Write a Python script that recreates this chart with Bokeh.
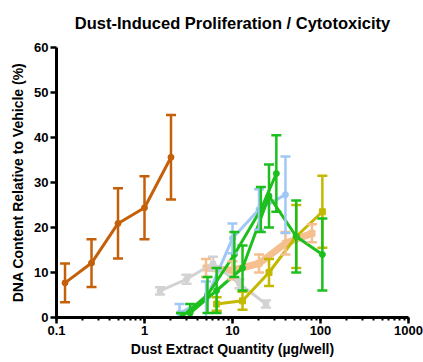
from bokeh.plotting import figure
from bokeh.models import ColumnDataSource, Whisker, TeeHead, LogTicker, FixedTicker, Range1d, Title
from bokeh.embed import file_html
from bokeh.resources import INLINE

# ---- data ----
orange_x = [0.125, 0.25, 0.5, 1, 2]
orange_y = [7.7, 12.1, 20.9, 24.4, 35.6]
orange_e = [4.3, 5.3, 7.8, 7.0, 9.4]

gray_x = [1.5, 3, 6, 12, 24]
gray_y = [5.9, 8.5, 12.0, 7.5, 3.0]
gray_e = [0.8, 1.0, 1.5, 1.0, 0.8]

peach_x = [5, 10, 20, 40, 80]
peach_y = [11.0, 10.5, 12.0, 16.5, 18.7]
peach_e = [2.0, 2.0, 2.0, 2.5, 2.0]

blue_x = [2.5, 5, 10, 20, 40]
blue_y = [1.0, 4.0, 17.6, 24.0, 27.3]
blue_e = [2.0, 4.0, 3.3, 4.5, 8.5]

green1_x = [3.3, 6.6, 13, 26, 53, 105]
green1_y = [1.0, 6.0, 11.0, 27.0, 18.0, 14.0]
green1_e = [2.0, 5.0, 5.0, 7.0, 8.0, 8.0]

green2_x = [2.6, 5.2, 10.5, 21, 31.5]
green2_y = [0.0, 5.0, 14.0, 24.0, 32.0]
green2_e = [1.0, 4.0, 5.0, 5.0, 8.5]

olive_x = [6.6, 13, 26, 53, 105]
olive_y = [3.0, 3.7, 10.0, 18.0, 23.5]
olive_e = [1.5, 2.0, 3.0, 7.0, 8.0]

y_ticks = [0, 10, 20, 30, 40, 50, 60]

FONT = "Liberation Sans"

p = figure(width=423, height=362, x_axis_type="log",
           x_range=Range1d(0.1, 1000), y_range=Range1d(0, 60),
           output_backend="svg", toolbar_location=None,
           min_border_left=56, min_border_right=15,
           min_border_top=44, min_border_bottom=45)
p.title = None
p.add_layout(Title(text="Dust-Induced Proliferation / Cytotoxicity", align="center",
                   vertical_align="top",
                   text_font=FONT, text_font_size="16.5px", text_font_style="bold",
                   text_color="black", offset=0, standoff=27), "above")

p.grid.visible = False
p.outline_line_color = None

series = [
    (peach_x, peach_y, peach_e, "#f5bf8f", 7, "square"),
    (gray_x, gray_y, gray_e, "#d2d2d2", 3, "circle"),
    (blue_x, blue_y, blue_e, "#9fc8f6", 3, "circle"),
    (olive_x, olive_y, olive_e, "#c4b800", 3, "square"),
    (green2_x, green2_y, green2_e, "#1cbf1c", 3, "circle"),
    (green1_x, green1_y, green1_e, "#1cbf1c", 3, "circle"),
    (orange_x, orange_y, orange_e, "#c5600a", 3, "circle"),
]

for xs, ys, es, col, lw, mk in series:
    src = ColumnDataSource(dict(x=xs, y=ys,
                                lo=[max(v - e, 0) for v, e in zip(ys, es)],
                                hi=[v + e for v, e in zip(ys, es)]))
    w = Whisker(source=src, base="x", lower="lo", upper="hi", dimension="height",
                line_color=col, line_width=2.5,
                upper_head=TeeHead(size=10, line_color=col, line_width=2.5),
                lower_head=TeeHead(size=10, line_color=col, line_width=2.5),
                level="glyph")
    p.add_layout(w)
    p.line("x", "y", source=src, line_color=col, line_width=lw)
    p.scatter("x", "y", source=src, marker=mk, size=6, fill_color=col, line_color=col)

for ax in (p.xaxis[0], p.yaxis[0]):
    ax.axis_line_width = 3
    ax.axis_line_color = "black"
    ax.major_tick_line_width = 2.5
    ax.major_tick_out = 6
    ax.major_tick_in = 0
    ax.minor_tick_line_width = 2
    ax.minor_tick_out = 3
    ax.minor_tick_in = 0
    ax.major_label_text_font = FONT
    ax.major_label_text_font_style = "bold"
    ax.major_label_text_font_size = "13px"
    ax.major_label_text_color = "black"
    ax.axis_label_text_font = FONT
    ax.axis_label_text_font_style = "bold"
    ax.axis_label_text_font_size = "14px"
    ax.axis_label_text_color = "black"

p.xaxis[0].ticker = LogTicker(num_minor_ticks=10)
p.xaxis[0].major_label_overrides = {0.1: "0.1", 1: "1", 10: "10", 100: "100", 1000: "1000"}
p.xaxis[0].axis_label = "Dust Extract Quantity (\u00b5g/well)"
p.xaxis[0].axis_label_standoff = 3
p.xaxis[0].major_label_standoff = 2

p.yaxis[0].ticker = FixedTicker(ticks=y_ticks)
p.yaxis[0].minor_tick_line_color = None
p.yaxis[0].axis_label = "DNA Content Relative to Vehicle (%)"
p.yaxis[0].axis_label_standoff = 5
p.yaxis[0].major_label_standoff = 2

open("out.html", "w").write(file_html(p, INLINE))
